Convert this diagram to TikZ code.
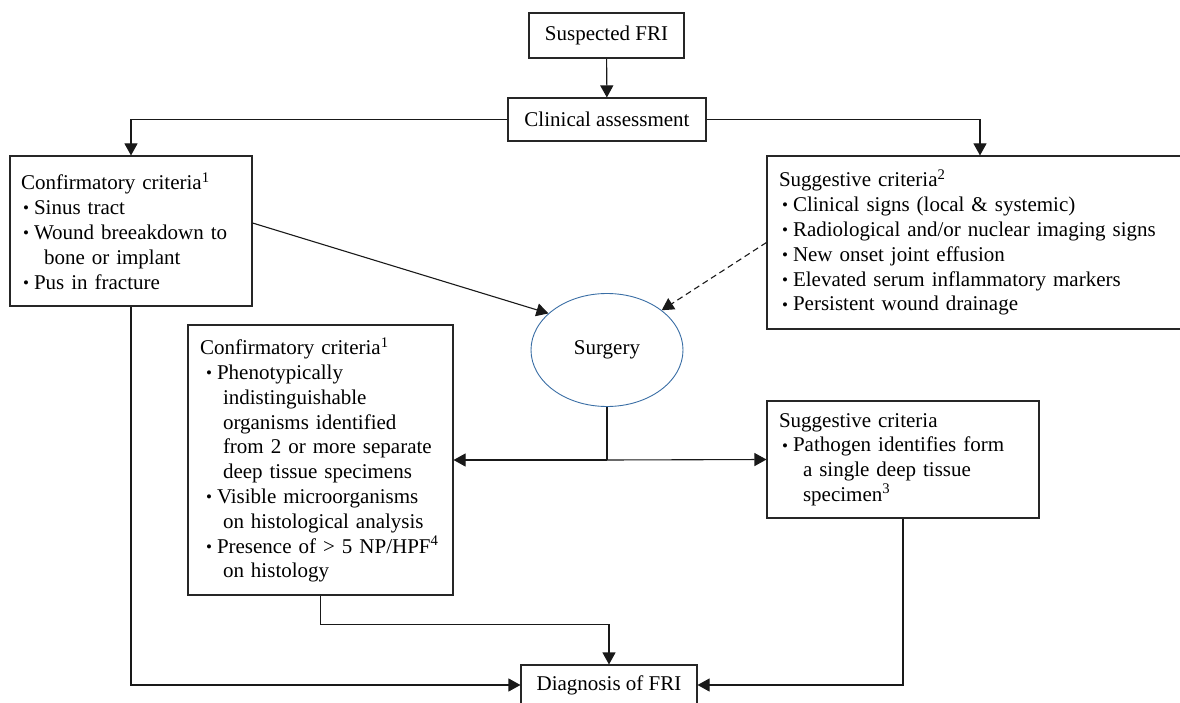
\documentclass[tikz,border=0pt]{standalone}
\usepackage{fontspec}
\setmainfont{Liberation Serif}
\usetikzlibrary{arrows.meta,shapes.geometric,calc}
\newcommand{\bul}[2]{\hspace*{#1}\makebox[#2][l]{\raisebox{0.8pt}{\fontsize{17}{17}\selectfont\textbullet}}}
\newcommand{\cont}[1]{\hspace*{#1}}
\definecolor{ellblue}{HTML}{3A6EA5}
\begin{document}
\begin{tikzpicture}[x=1pt,y=-1pt,
  every node/.style={font=\fontsize{21}{24.8}\selectfont},
  box/.style={draw=black!85, line width=1.1pt, rectangle, inner ysep=0pt},
  listbox/.style={box, align=left, inner xsep=#1},
  arr/.style={line width=1.1pt, draw=black!90, -{Triangle[length=12pt,width=13pt]}},
  dashedarr/.style={arr, dashed, dash pattern=on 6pt off 4pt},
  line/.style={line width=1.1pt, draw=black!90}
]
\useasboundingbox (0,0) rectangle (1180,703);
\clip (0,0) rectangle (1180,703);

\node[box, minimum width=155pt, minimum height=45pt] (sus) at (606.5,35.5) {Suspected FRI};
\node[box, minimum width=198pt, minimum height=43pt] (cli) at (607,119.5) {Clinical assessment};

\node[listbox=11pt, text width=220pt, minimum height=150pt] (c1) at (131,231) {Confirmatory criteria\textsuperscript{1}\\
\bul{2pt}{11pt}Sinus tract\\
\bul{2pt}{11pt}Wound breeakdown to\\
\cont{23pt}bone or implant\\
\bul{2pt}{11pt}Pus in fracture};

\node[listbox=12pt, text width=402pt, minimum height=173pt] (s1) at (980,242.5) {Suggestive criteria\textsuperscript{2}\\
\bul{3pt}{11pt}Clinical signs (local \& systemic)\\
\bul{3pt}{11pt}Radiological and/or nuclear imaging signs\\
\bul{3pt}{11pt}New onset joint effusion\\
\bul{3pt}{11pt}Elevated serum inflammatory markers\\
\bul{3pt}{11pt}Persistent wound drainage};

\node[ellipse, draw=ellblue, line width=0.9pt, minimum width=152pt, minimum height=113pt, inner sep=0pt] (surg) at (607,350) {Surgery};

\node[listbox=12pt, text width=241pt, minimum height=270pt] (c2) at (320.5,460) {Confirmatory criteria\textsuperscript{1}\\
\bul{6pt}{11pt}Phenotypically\\
\cont{23pt}indistinguishable\\
\cont{23pt}organisms identified\\
\cont{23pt}from 2 or more separate\\
\cont{23pt}deep tissue specimens\\
\bul{6pt}{11pt}Visible microorganisms\\
\cont{23pt}on histological analysis\\
\bul{6pt}{11pt}Presence of > 5 NP/HPF\textsuperscript{4}\\
\cont{23pt}on histology};

\node[listbox=12pt, text width=248pt, minimum height=117pt] (s2) at (903,459.5) {Suggestive criteria\\
\bul{3pt}{11pt}Pathogen identifies form\\
\cont{24pt}a single deep tissue\\
\cont{24pt}specimen\textsuperscript{3}};

\node[box, minimum width=176pt, minimum height=40pt] (diag) at (609,685) {Diagnosis of FRI};

% connectors
\draw[arr] (sus) -- (cli);
\draw[arr] (cli.west) -| (c1.north);
\draw[arr] (cli.east) -| (s1.north);
\draw[arr] ($(c1.east)+(0,-8)$) -- (surg.148);
\draw[dashedarr] (s1.west) -- (surg.36);
\coordinate (j) at (surg.south |- c2.east);
\draw[line] (surg.south) -- (j);
\draw[arr] (j) -- (c2.east);
\draw[arr] (j) -- (s2.west);
\draw[arr] (c1.south) |- (diag.west);
\draw[arr] (c2.south) -- ++(0,29) -| (diag.north);
\draw[arr] (s2.south) |- (diag.east);
\end{tikzpicture}
\end{document}
